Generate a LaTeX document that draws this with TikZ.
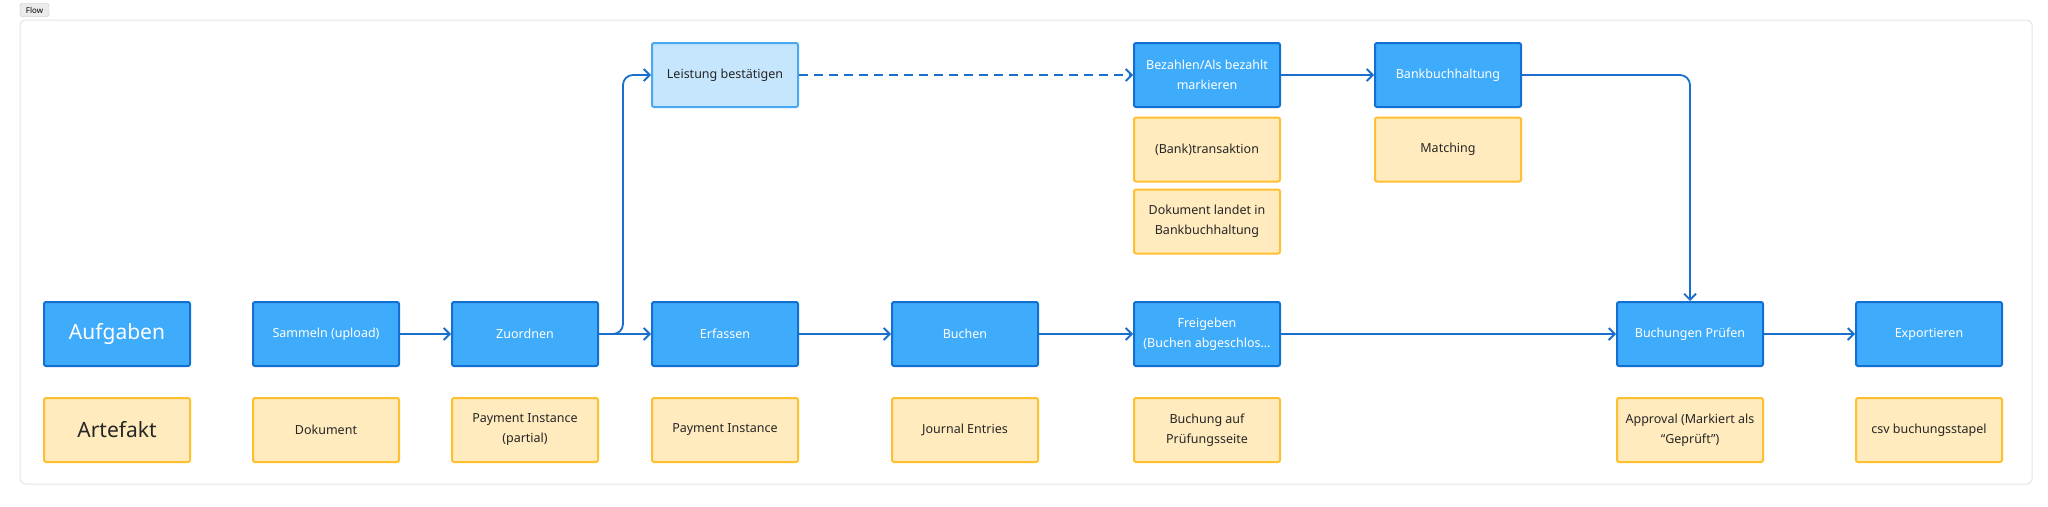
\documentclass[tikz,border=0pt]{standalone}
\usepackage{fontspec}
\setmainfont{Noto Sans}
\usetikzlibrary{arrows.meta}
\definecolor{bfill}{HTML}{3FABFB}
\definecolor{bdraw}{HTML}{1270D3}
\definecolor{lfill}{HTML}{C6E6FD}
\definecolor{ldraw}{HTML}{4AA8F2}
\definecolor{yfill}{HTML}{FFEBBD}
\definecolor{ydraw}{HTML}{FFC030}
\definecolor{arr}{HTML}{1A6FCC}
\begin{document}
\begin{tikzpicture}[x=1pt,y=-1pt,
  task/.style={draw=bdraw,fill=bfill,line width=2pt,rounded corners=2pt,minimum width=146pt,minimum height=64pt,text=white,font=\fontsize{12.5}{20}\selectfont,align=center,inner sep=0pt},
  ltask/.style={task,draw=ldraw,fill=lfill,text=black!85},
  art/.style={draw=ydraw,fill=yfill,line width=2pt,rounded corners=2pt,minimum width=146pt,minimum height=64pt,text=black!85,font=\fontsize{12.5}{20}\selectfont,align=center,inner sep=0pt},
  conn/.style={draw=arr,line width=1.8pt,-{Straight Barb[length=6pt,width=12pt]},rounded corners=10pt}]
\fill[white] (0,0) rectangle (2048,506);
\draw[black!10,line width=1pt,rounded corners=5pt] (20,20) rectangle (2032,484);
\node[draw=black!25,fill=black!8,rounded corners=2pt,minimum width=29pt,minimum height=13pt,inner sep=0pt,font=\fontsize{8}{9}\selectfont\bfseries] (flow) at (34.5,10) {Flow};
% row 4 tasks
\node[task,font=\fontsize{21}{24}\selectfont\bfseries] (auf) at (117,334) {Aufgaben};
\node[task] (sam) at (326,334) {Sammeln (upload)};
\node[task] (zuo) at (525,334) {Zuordnen};
\node[task] (erf) at (725,334) {Erfassen};
\node[task] (buc) at (965,334) {Buchen};
\node[task] (fre) at (1207,334) {Freigeben\\(Buchen abgeschlos\ldots};
\node[task] (bpr) at (1690,334) {Buchungen Prüfen};
\node[task] (exp) at (1929,334) {Exportieren};
% artefacts
\node[art,font=\fontsize{21}{24}\selectfont\bfseries] (art) at (117,430) {Artefakt};
\node[art] (a1) at (326,430) {Dokument};
\node[art] (a2) at (525,430) {Payment Instance\\(partial)};
\node[art] (a3) at (725,430) {Payment Instance};
\node[art] (a4) at (965,430) {Journal Entries};
\node[art] (a5) at (1207,430) {Buchung auf\\Prüfungsseite};
\node[art] (a6) at (1690,430) {Approval (Markiert als\\“Geprüft”)};
\node[art] (a7) at (1929,430) {csv buchungsstapel};
% top
\node[ltask] (lei) at (725,75) {Leistung bestätigen};
\node[task] (bez) at (1207,75) {Bezahlen/Als bezahlt\\markieren};
\node[task] (bank) at (1448,75) {Bankbuchhaltung};
\node[art] (t1) at (1207,149.5) {(Bank)transaktion};
\node[art] (t2) at (1207,221.5) {Dokument landet in\\Bankbuchhaltung};
\node[art] (t3) at (1448,149.5) {Matching};
% connectors
\draw[conn] (sam) -- (zuo);
\draw[conn] (zuo) -- (erf);
\draw[conn] (zuo.east) -- ++(24,0) |- (lei.west);
\draw[conn] (erf) -- (buc);
\draw[conn] (buc) -- (fre);
\draw[conn] (fre) -- (bpr);
\draw[conn] (bpr) -- (exp);
\draw[conn,dashed,dash pattern=on 9pt off 6pt] (lei) -- (bez);
\draw[conn] (bez) -- (bank);
\draw[conn] (bank.east) -| (bpr.north);
\end{tikzpicture}
\end{document}
